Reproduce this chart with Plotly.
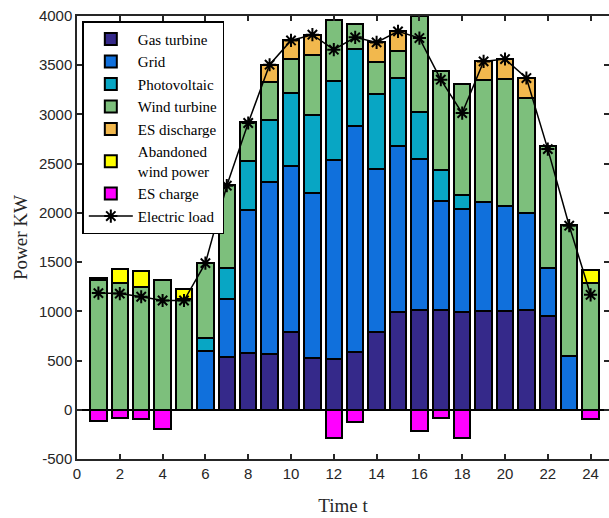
import plotly.graph_objects as go

hours = list(range(1, 25))
gas_turbine = [0, 0, 0, 0, 0, 0, 535, 576, 566, 786, 525, 515, 589, 789, 993, 1016, 1016, 989, 1006, 1006, 1016, 948, 0, 0]
grid = [0, 0, 0, 0, 0, 599, 590, 1456, 1743, 1686, 1677, 2025, 2296, 1656, 1689, 1531, 1100, 1050, 1100, 1067, 982, 492, 549, 0]
photovoltaic = [0, 0, 0, 0, 0, 129, 315, 498, 630, 746, 795, 803, 780, 766, 688, 473, 315, 145, 0, 0, 0, 0, 0, 0]
wind_turbine = [1314, 1287, 1246, 1321, 1125, 762, 846, 389, 390, 345, 610, 612, 257, 322, 271, 980, 1013, 1128, 1247, 1287, 1169, 1235, 1331, 1287]
es_discharge = [0, 0, 0, 0, 0, 0, 0, 0, 176, 196, 203, 0, 0, 199, 203, 0, 0, 0, 186, 203, 203, 0, 0, 0]
abandoned_wind = [24, 146, 166, 0, 104, 0, 0, 0, 0, 0, 0, 0, 0, 0, 0, 0, 0, 0, 0, 0, 0, 0, 0, 128]
es_charge = [-109, -85, -91, -193, 0, 0, 0, 0, 0, 0, 0, -288, -129, 0, 0, -213, -85, -288, 0, 0, 0, 0, 0, -91]
electric_load = [1185, 1180, 1148, 1110, 1110, 1490, 2276, 2913, 3505, 3752, 3810, 3658, 3783, 3732, 3844, 3776, 3353, 3014, 3539, 3563, 3370, 2648, 1870, 1168]

x_ticks = list(range(0, 25, 2))
y_ticks = list(range(-500, 4001, 500))

series = [
    ("Gas turbine", gas_turbine, "#35298a"),
    ("Grid", grid, "#1070dc"),
    ("Photovoltaic", photovoltaic, "#08a6c4"),
    ("Wind turbine", wind_turbine, "#7dbf7c"),
    ("ES discharge", es_discharge, "#f2b84d"),
    ("Abandoned<br>wind power", abandoned_wind, "#ffff00"),
    ("ES charge", es_charge, "#ff00ff"),
]

fig = go.Figure()
for name, vals, color in series:
    fig.add_trace(go.Bar(
        x=hours, y=vals, name=name, width=0.76,
        marker=dict(color=color, line=dict(color="black", width=2)),
    ))

fig.add_trace(go.Scatter(
    x=hours, y=electric_load, name="Electric load", mode="lines+markers",
    line=dict(color="black", width=1.5),
    marker=dict(symbol="asterisk-open", size=11, color="black", line=dict(color="black", width=2)),
))

fig.update_layout(
    width=609, height=518,
    margin=dict(l=77, r=0, t=16, b=59),
    barmode="relative",
    bargap=0,
    plot_bgcolor="white",
    paper_bgcolor="white",
    showlegend=True,
    legend=dict(
        x=0.01, y=0.988, xanchor="left", yanchor="top",
        bgcolor="white", bordercolor="black", borderwidth=1.5,
        font=dict(family="Liberation Serif", size=15, color="black"),
        traceorder="normal", itemwidth=44, tracegroupgap=0,
    ),
    xaxis=dict(
        range=[0, 24.86], tickvals=x_ticks, ticktext=[str(v) for v in x_ticks],
        ticks="inside", ticklen=5, tickcolor="#262626", tickwidth=1.5,
        showline=True, linecolor="#262626", linewidth=1.5, mirror="ticks",
        showgrid=False, zeroline=False, automargin=False,
        tickfont=dict(family="Liberation Sans Narrow, Liberation Sans", size=15, color="#262626"),
        title=dict(text="Time t", font=dict(family="Liberation Serif", size=19, color="#262626"), standoff=18),
    ),
    yaxis=dict(
        range=[-500, 4000], tickvals=y_ticks, ticktext=[str(v) for v in y_ticks],
        ticks="inside", ticklen=5, tickcolor="#262626", tickwidth=1.5,
        showline=True, linecolor="#262626", linewidth=1.5, mirror="ticks",
        showgrid=False, zeroline=True, zerolinecolor="black", zerolinewidth=2,
        automargin=False,
        tickfont=dict(family="Liberation Sans Narrow, Liberation Sans", size=15, color="#262626"),
        title=dict(text="Power KW", font=dict(family="Liberation Serif", size=19, color="#262626"), standoff=6),
    ),
)

fig.write_html(
    "out.html",
    config={"displayModeBar": False},
    post_script="document.body.style.margin='0';document.body.style.overflow='hidden';",
)
